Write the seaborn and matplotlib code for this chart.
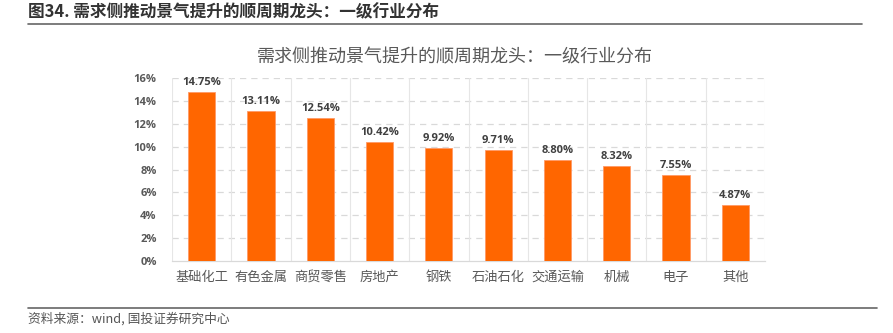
import matplotlib
matplotlib.use("Agg")
import matplotlib.pyplot as plt
import seaborn as sns
import pandas as pd

categories = ["基础化工", "有色金属", "商贸零售", "房地产", "钢铁", "石油石化", "交通运输", "机械", "电子", "其他"]
values = [14.75, 13.11, 12.54, 10.42, 9.92, 9.71, 8.80, 8.32, 7.55, 4.87]
yticks = [0, 2, 4, 6, 8, 10, 12, 14, 16]

sns.set_theme(style="white")
plt.rcParams['font.family'] = ['Noto Sans CJK SC', 'DejaVu Sans']

df = pd.DataFrame({"cat": categories, "val": values})

fig = plt.figure(figsize=(8.93, 3.33), dpi=100)
ax = fig.add_axes([172/893, 1-261/333, (765-172)/893, (261-78)/333])

sns.barplot(data=df, x="cat", y="val", color="#FF6600", saturation=1, width=0.46, ax=ax,
            edgecolor="#FF9966", linewidth=0.6, zorder=3)

ax.set_ylim(0, 16)
ax.set_xlim(-0.5, len(categories) - 0.5)
ax.set_yticks(yticks)
ax.set_yticklabels([f"{t}%" for t in yticks], family=['Open Sans', 'DejaVu Sans'],
                   fontsize=8, fontweight='bold', color='#595959')
ax.set_xticks(range(len(categories)))
ax.set_xticklabels(categories, fontsize=9.5, color='#595959')
ax.tick_params(axis='both', length=0)
ax.tick_params(axis='y', pad=11)
ax.tick_params(axis='x', pad=7)
ax.set_xlabel("")
ax.set_ylabel("")

for y in yticks[1:]:
    ax.axhline(y, color='#D9D9D9', lw=0.9, ls=(0, (5, 4)), zorder=1)
for x in range(len(categories) + 1):
    ax.axvline(x - 0.5, color='#E6E6E6', lw=0.8, zorder=1)
for s in ["top", "right", "left"]:
    ax.spines[s].set_visible(False)
ax.spines["bottom"].set_color('#D9D9D9')
ax.spines["bottom"].set_linewidth(0.9)

for i, v in enumerate(values):
    ax.text(i, v + 0.35, f"{v:.2f}%", ha='center', va='bottom', fontsize=8,
            fontweight='bold', color='#404040', family=['Open Sans', 'DejaVu Sans'])

fig.text(455/893, 1-57/333, "需求侧推动景气提升的顺周期龙头：一级行业分布", ha='center', va='center',
         fontsize=13, color='#595959')
fig.text(28/893, 1-12/333, "图34. 需求侧推动景气提升的顺周期龙头：一级行业分布", ha='left', va='center',
         fontsize=12, fontweight='bold', color='#333333')
fig.add_artist(plt.Line2D([28/893, 862/893], [1-24/333, 1-24/333], color='#666666', lw=1.2))
fig.add_artist(plt.Line2D([28/893, 877/893], [1-308/333, 1-308/333], color='#666666', lw=1.2))
fig.text(28/893, 1-319/333, "资料来源：wind, 国投证券研究中心", ha='left', va='center',
         fontsize=9.2, style='italic', color='#555555')

fig.savefig("out.png", dpi=100)
